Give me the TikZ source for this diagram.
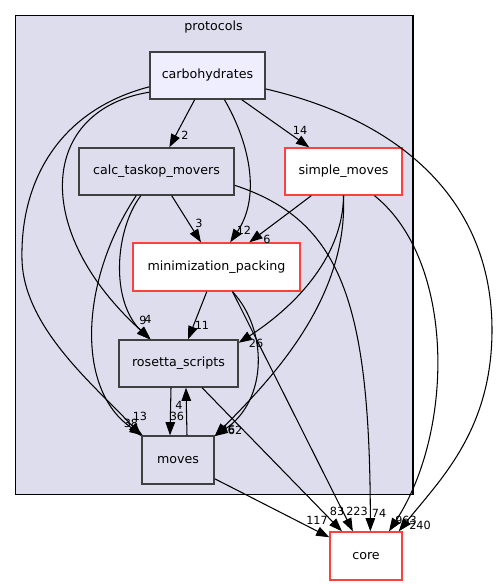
\documentclass[tikz,border=0pt]{standalone}
\usepackage{fontspec}
\setmainfont{DejaVu Sans}
\usetikzlibrary{arrows.meta}
\definecolor{clusterfill}{HTML}{DDDDEE}
\definecolor{topfill}{HTML}{EEEEFF}
\definecolor{boxline}{HTML}{404040}
\definecolor{redline}{HTML}{FF4040}

\begin{document}
\begin{tikzpicture}[x=0.02cm, y=-0.02cm,
  dirbox/.style={draw=boxline, fill=clusterfill, line width=0.8pt, inner sep=0pt,
    minimum height=0.94cm, font=\fontsize{7.2}{8}\selectfont},
  redbox/.style={dirbox, draw=redline, fill=white},
  topbox/.style={dirbox, fill=topfill},
  lbl/.style={inner sep=0pt, font=\fontsize{6.4}{7}\selectfont},
  dep/.style={line width=0.6pt, -{Triangle[length=7.5pt, width=5.4pt]}}]
\useasboundingbox (0,0) rectangle (499,585);
\draw[fill=clusterfill, line width=0.6pt] (15.5,15.5) rectangle (413,494.5);
\node[inner sep=0pt, font=\fontsize{7.2}{8}\selectfont] (protocols) at (213.5,27.5) {protocols};
\node[topbox, minimum width=2.3cm] (carb) at (207.5,75.5) {carbohydrates};
\node[dirbox, minimum width=3.1cm] (calc) at (156.5,171.5) {calc\_taskop\_movers};
\node[redbox, minimum width=2.34cm] (simple) at (343.5,171.5) {simple\_moves};
\node[redbox, minimum width=3.34cm, minimum height=0.96cm] (minpack) at (216.5,267) {minimization\_packing};
\node[dirbox, minimum width=2.38cm] (ros) at (178.5,363.5) {rosetta\_scripts};
\node[dirbox, minimum width=1.44cm, minimum height=0.96cm] (moves) at (178,460) {moves};
\node[redbox, minimum width=1.44cm, minimum height=0.96cm] (core) at (366,556) {core};
% carbohydrates
\draw[dep] (carb) -- (calc);
\draw[dep] (carb) -- (simple);
\draw[dep] (carb.-55) .. controls (248,140) and (262,195) .. (minpack.61);
\draw[dep] (carb.-164) .. controls (40,110) and (30,230) .. (ros.139);
\draw[dep] (carb.-169) .. controls (60,110) and (20,180) .. (22,260)
  .. controls (24,330) and (100,390) .. (moves.147);
\draw[dep] (carb.-13) .. controls (400,120) and (492,200) .. (492,330)
  .. controls (492,430) and (440,480) .. (core.37);
% calc_taskop_movers
\draw[dep] (calc) -- (minpack);
\draw[dep] (calc.-123) .. controls (115,230) and (110,300) .. (ros.140);
\draw[dep] (calc.-130) .. controls (80,280) and (75,390) .. (moves.145);
\draw[dep] (calc.-10) .. controls (340,220) and (370,300) .. (core.80);
% simple_moves
\draw[dep] (simple) -- (minpack);
\draw[dep] (simple.south) .. controls (343,260) and (290,310) .. (ros.19);
\draw[dep] (simple.south) .. controls (348,300) and (270,380) .. (moves.33);
\draw[dep] (simple.-38) .. controls (455,260) and (455,430) .. (core.47);
% minimization_packing
\draw[dep] (minpack) -- (ros);
\draw[dep] (minpack.-57) .. controls (268,330) and (268,400) .. (moves.33);
\draw[dep] (minpack.-57) -- (core.118);
% rosetta_scripts and moves
\draw[dep] ([xshift=-0.15cm]ros.south) -- ([xshift=-0.16cm]moves.north);
\draw[dep] ([xshift=0.18cm]moves.north) -- ([xshift=0.15cm]ros.south);
\draw[dep] (ros) -- (core);
\draw[dep] (moves) -- (core);
% labels
\node[lbl] (l-carb-calc) at (185,135) {2};
\node[lbl] (l-carb-simple) at (300,130) {14};
\node[lbl] (l-carb-min) at (244,230) {12};
\node[lbl] (l-carb-ros) at (143,320) {9};
\node[lbl] (l-carb-moves) at (131,423) {38};
\node[lbl] (l-carb-core) at (420,525) {240};
\node[lbl] (l-calc-min) at (199,223) {3};
\node[lbl] (l-calc-ros) at (148,319) {4};
\node[lbl] (l-calc-moves) at (140,416) {13};
\node[lbl] (l-calc-core) at (379,513) {74};
\node[lbl] (l-simple-min) at (267,239) {6};
\node[lbl] (l-simple-ros) at (256,343) {26};
\node[lbl] (l-simple-moves) at (228,429) {46};
\node[lbl] (l-simple-core) at (406,520) {963};
\node[lbl] (l-min-ros) at (202,325) {11};
\node[lbl] (l-min-moves) at (235,430) {62};
\node[lbl] (l-min-core) at (357,511) {223};
\node[lbl] (l-ros-moves) at (177,416) {36};
\node[lbl] (l-moves-ros) at (179,405) {4};
\node[lbl] (l-ros-core) at (337,511) {83};
\node[lbl] (l-moves-core) at (317,520) {117};
\end{tikzpicture}
\end{document}
